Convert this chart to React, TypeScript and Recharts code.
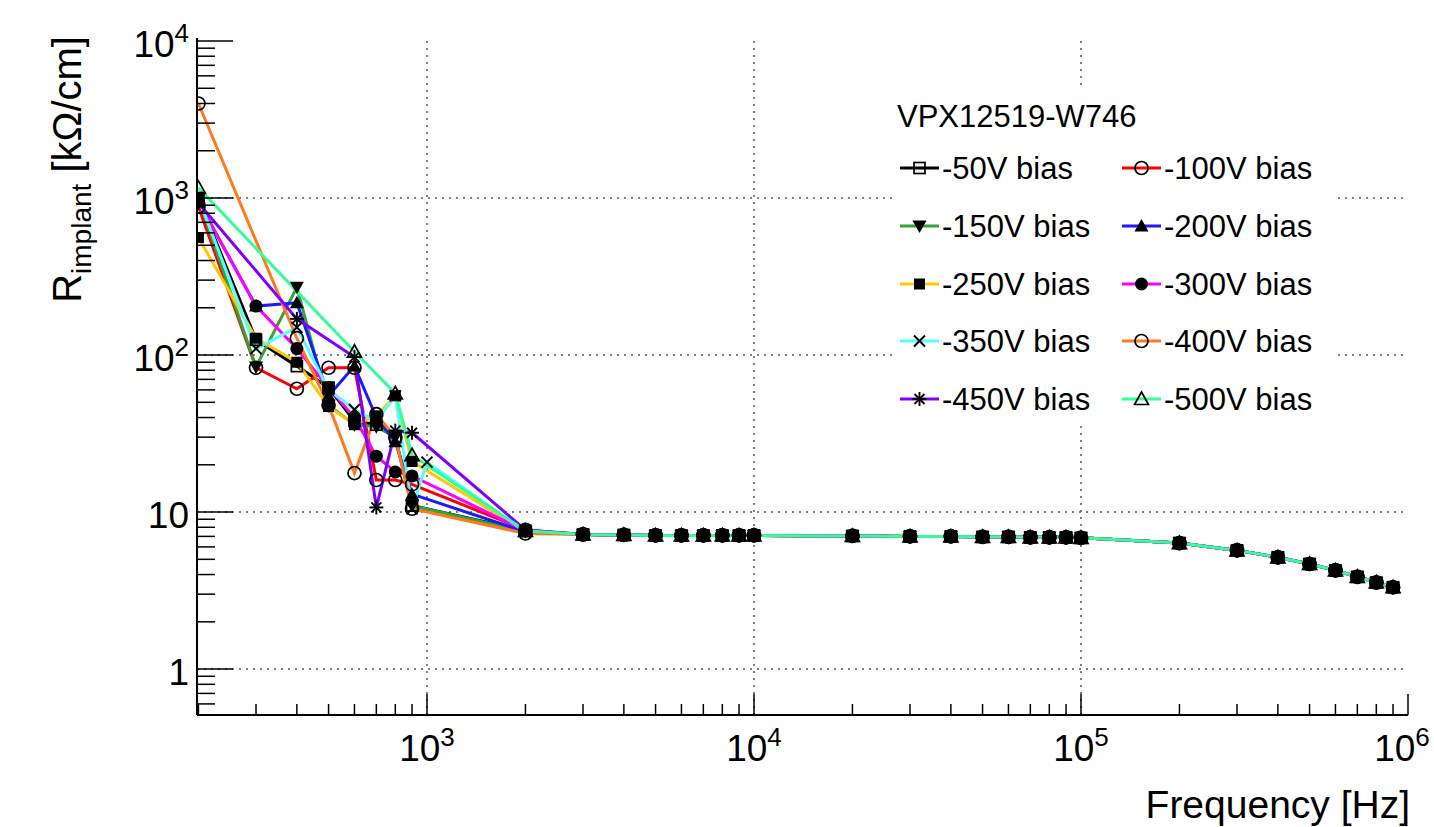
import React from 'react';
import { LineChart, Line, XAxis, YAxis, ReferenceLine, Legend, Label } from 'recharts';

// frequencies (Hz) of the sweep
const LOW_FREQ = [200, 300, 400, 500, 600, 700, 800, 900, 2000];
const LOW_FREQ_350V = [200, 300, 400, 500, 600, 700, 800, 900, 1000, 2000];
const LOW_FREQ_400V = [200, 400, 500, 600, 700, 800, 900, 2000];
const LOW_FREQ_450V = [200, 400, 600, 700, 800, 900, 2000];
const LOW_FREQ_500V = [200, 600, 800, 900, 2000];
const TAIL_FREQ = [
  3000, 4000, 5000, 6000, 7000, 8000, 9000, 10000, 20000, 30000, 40000, 50000, 60000,
  70000, 80000, 90000, 100000, 200000, 300000, 400000, 500000, 600000, 700000, 800000, 900000,
];

// R_implant (kOhm/cm), low frequency part per bias
const R_50V = [1000, 125, 85, 62, 38, 36, 30, 11, 7.6];
const R_100V = [880, 83, 61, 83, 83, 16, 16, 15, 7.7];
const R_150V = [1000, 84, 270, 48, 36, 35, 30, 11, 7.5];
const R_200V = [950, 205, 215, 55, 85, 40, 28, 13, 7.5];
const R_250V = [560, 128, 90, 47, 36, 41, 55, 21, 7.5];
const R_300V = [950, 205, 110, 62, 40, 22.7, 18, 17, 7.6];
const R_350V = [1000, 110, 150, 60, 45, 38, 55, 10.5, 20.8, 7.5];
const R_400V = [4000, 128, 48, 17.7, 42, 30, 10.5, 7.3];
const R_450V = [930, 170, 97, 10.7, 33, 32, 7.7];
const R_500V = [1160, 105, 57, 23, 7.6];

// above 2 kHz all biases sit on top of each other
const R_TAIL = [
  7.2, 7.15, 7.1, 7.1, 7.1, 7.1, 7.1, 7.1, 7.05, 7.0, 7.0, 6.95, 6.95,
  6.9, 6.9, 6.9, 6.85, 6.35, 5.7, 5.15, 4.67, 4.25, 3.87, 3.56, 3.32,
];

const X_TICKS = [
  200, 300, 400, 500, 600, 700, 800, 900,
  1000, 2000, 3000, 4000, 5000, 6000, 7000, 8000, 9000,
  10000, 20000, 30000, 40000, 50000, 60000, 70000, 80000, 90000,
  100000, 200000, 300000, 400000, 500000, 600000, 700000, 800000, 900000, 1000000,
];
const Y_TICKS = [
  0.6, 0.7, 0.8, 0.9, 1, 2, 3, 4, 5, 6, 7, 8, 9,
  10, 20, 30, 40, 50, 60, 70, 80, 90,
  100, 200, 300, 400, 500, 600, 700, 800, 900,
  1000, 2000, 3000, 4000, 5000, 6000, 7000, 8000, 9000, 10000,
];
const X_GRID = [1000, 10000, 100000];
const Y_GRID = [1, 10, 100, 1000];

const FONT = '"Liberation Sans", Arial, Helvetica, sans-serif';

type Marker =
  | 'openSquare' | 'openCircle' | 'downTri' | 'upTri' | 'square'
  | 'circle' | 'cross' | 'star' | 'openTri';

const series = [
  { name: '-50V bias', freq: LOW_FREQ, r: R_50V, color: '#000000', marker: 'openSquare' as Marker },
  { name: '-100V bias', freq: LOW_FREQ, r: R_100V, color: '#ff0000', marker: 'openCircle' as Marker },
  { name: '-150V bias', freq: LOW_FREQ, r: R_150V, color: '#36a336', marker: 'downTri' as Marker },
  { name: '-200V bias', freq: LOW_FREQ, r: R_200V, color: '#1a1aff', marker: 'upTri' as Marker },
  { name: '-250V bias', freq: LOW_FREQ, r: R_250V, color: '#ffc800', marker: 'square' as Marker },
  { name: '-300V bias', freq: LOW_FREQ, r: R_300V, color: '#ff00ff', marker: 'circle' as Marker },
  { name: '-350V bias', freq: LOW_FREQ_350V, r: R_350V, color: '#55ffff', marker: 'cross' as Marker },
  { name: '-400V bias', freq: LOW_FREQ_400V, r: R_400V, color: '#ff7a1f', marker: 'openCircle' as Marker },
  { name: '-450V bias', freq: LOW_FREQ_450V, r: R_450V, color: '#8000ff', marker: 'star' as Marker },
  { name: '-500V bias', freq: LOW_FREQ_500V, r: R_500V, color: '#33ff99', marker: 'openTri' as Marker },
];

const toPoints = (freq: number[], r: number[]) =>
  freq.map((f, i) => ({ f, r: r[i] })).concat(TAIL_FREQ.map((f, i) => ({ f, r: R_TAIL[i] })));

function drawMarker(shape: Marker, cx: number, cy: number, key?: string) {
  const k = '#000';
  switch (shape) {
    case 'openSquare':
      return <rect key={key} x={cx - 5.5} y={cy - 5.5} width={11} height={11} fill="none" stroke={k} strokeWidth={1.7} />;
    case 'square':
      return <rect key={key} x={cx - 5.5} y={cy - 5.5} width={11} height={11} fill={k} />;
    case 'openCircle':
      return <circle key={key} cx={cx} cy={cy} r={6.5} fill="none" stroke={k} strokeWidth={1.7} />;
    case 'circle':
      return <circle key={key} cx={cx} cy={cy} r={6.5} fill={k} />;
    case 'upTri':
      return <polygon key={key} points={`${cx},${cy - 7} ${cx + 7},${cy + 5.5} ${cx - 7},${cy + 5.5}`} fill={k} />;
    case 'openTri':
      return <polygon key={key} points={`${cx},${cy - 7} ${cx + 7},${cy + 5.5} ${cx - 7},${cy + 5.5}`} fill="none" stroke={k} strokeWidth={1.7} />;
    case 'downTri':
      return <polygon key={key} points={`${cx},${cy + 7} ${cx + 7},${cy - 5.5} ${cx - 7},${cy - 5.5}`} fill={k} />;
    case 'cross':
      return (
        <g key={key} stroke={k} strokeWidth={1.9}>
          <line x1={cx - 5.5} y1={cy - 5.5} x2={cx + 5.5} y2={cy + 5.5} />
          <line x1={cx - 5.5} y1={cy + 5.5} x2={cx + 5.5} y2={cy - 5.5} />
        </g>
      );
    case 'star':
      return (
        <g key={key} stroke={k} strokeWidth={1.9}>
          <line x1={cx - 7} y1={cy} x2={cx + 7} y2={cy} />
          <line x1={cx} y1={cy - 7} x2={cx} y2={cy + 7} />
          <line x1={cx - 5} y1={cy - 5} x2={cx + 5} y2={cy + 5} />
          <line x1={cx - 5} y1={cy + 5} x2={cx + 5} y2={cy - 5} />
        </g>
      );
  }
  return null;
}

const isDecade = (v: number) => Math.abs(Math.log10(v) - Math.round(Math.log10(v))) < 1e-6;

const PowLabel = ({ v, x, y, anchor }: { v: number; x: number; y: number; anchor: 'middle' | 'end' }) => {
  const e = Math.round(Math.log10(v));
  return (
    <text x={x} y={y} textAnchor={anchor} fontFamily={FONT} fontSize={37} fill="#000">
      {e === 0 ? '1' : '10'}
      {e > 1 && (
        <tspan dy={-15} fontSize={26}>
          {e}
        </tspan>
      )}
    </text>
  );
};

const BottomTick = (props: any) => {
  const { x, y, payload } = props;
  const major = isDecade(payload.value);
  // last label would run past the right edge of the page
  const lx = payload.value >= 1000000 ? x - 6 : x;
  return (
    <g>
      <line x1={x} y1={y} x2={x} y2={y - (major ? 21 : 11)} stroke="#000" strokeWidth={1.5} />
      {major && <PowLabel v={payload.value} x={lx} y={y + 46} anchor="middle" />}
    </g>
  );
};

const TopTick = (props: any) => {
  const { x, y, payload } = props;
  const major = isDecade(payload.value);
  return <line x1={x} y1={y} x2={x} y2={y + (major ? 21 : 11)} stroke="#000" strokeWidth={1.5} />;
};

const LeftTick = (props: any) => {
  const { x, y, payload } = props;
  const major = isDecade(payload.value);
  return (
    <g>
      <line x1={x} y1={y} x2={x + (major ? 36 : 18)} y2={y} stroke="#000" strokeWidth={1.5} />
      {major && <PowLabel v={payload.value} x={x - 8} y={y + 16} anchor="end" />}
    </g>
  );
};

const RightTick = (props: any) => {
  const { x, y, payload } = props;
  const major = isDecade(payload.value);
  return <line x1={x} y1={y} x2={x - (major ? 36 : 18)} y2={y} stroke="#000" strokeWidth={1.5} />;
};

const LegendBox = () => {
  const rows = [83, 141, 199, 256, 314];
  return (
    <div style={{ width: 442, height: 340, background: '#fff' }}>
      <svg width={442} height={340}>
        <text x={4} y={42} fontFamily={FONT} fontSize={31} fill="#000">
          VPX12519-W746
        </text>
        {series.map((s, i) => {
          const col = i % 2;
          const cy = rows[Math.floor(i / 2)];
          const x0 = col === 0 ? 7 : 229;
          return (
            <g key={s.name}>
              <line x1={x0} y1={cy} x2={x0 + 39} y2={cy} stroke={s.color} strokeWidth={3} />
              {drawMarker(s.marker, x0 + 19.5, cy)}
              <text x={x0 + 42} y={cy + 11} fontFamily={FONT} fontSize={31} fill="#000">
                {s.name}
              </text>
            </g>
          );
        })}
      </svg>
    </div>
  );
};

export default function App() {
  return (
    <div style={{ position: 'absolute', left: 0, top: 0, background: '#fff' }}>
      <LineChart width={1434} height={827} margin={{ top: 38, right: 26, bottom: 0, left: 0 }}>
        <XAxis
          xAxisId="b"
          type="number"
          dataKey="f"
          scale="log"
          domain={[198, 1000000]}
          allowDataOverflow
          ticks={X_TICKS}
          interval={0}
          tickSize={0}
          tickMargin={0}
          tick={<BottomTick />}
          height={112}
          axisLine={{ stroke: '#000', strokeWidth: 2 }}
        >
          <Label
            content={(p: any) => {
              const vb = p.viewBox;
              return (
                <text x={vb.x + vb.width + 2} y={vb.y + 103} textAnchor="end" fontFamily={FONT} fontSize={39} fill="#000">
                  Frequency [Hz]
                </text>
              );
            }}
          />
        </XAxis>
        <XAxis
          xAxisId="t"
          orientation="top"
          type="number"
          dataKey="f"
          scale="log"
          domain={[198, 1000000]}
          allowDataOverflow
          ticks={X_TICKS}
          interval={0}
          tickSize={0}
          tickMargin={0}
          tick={<TopTick />}
          height={0}
          axisLine={{ stroke: '#000', strokeWidth: 2 }}
        />
        <YAxis
          yAxisId="l"
          type="number"
          dataKey="r"
          scale="log"
          domain={[0.51, 10450]}
          allowDataOverflow
          ticks={Y_TICKS}
          interval={0}
          tickSize={0}
          tickMargin={0}
          tick={<LeftTick />}
          width={197}
          axisLine={{ stroke: '#000', strokeWidth: 2 }}
        >
          <Label
            content={(p: any) => {
              const vb = p.viewBox;
              return (
                <text
                  transform={`translate(81, ${vb.y - 2}) rotate(-90)`}
                  x={0}
                  y={0}
                  textAnchor="end"
                  fontFamily={FONT}
                  fontSize={40}
                  fill="#000"
                >
                  R
                  <tspan dy={10} fontSize={28}>
                    implant
                  </tspan>
                  <tspan dy={-10}> [kΩ/cm]</tspan>
                </text>
              );
            }}
          />
        </YAxis>
        <YAxis
          yAxisId="r"
          orientation="right"
          type="number"
          dataKey="r"
          scale="log"
          domain={[0.51, 10450]}
          allowDataOverflow
          ticks={Y_TICKS}
          interval={0}
          tickSize={0}
          tickMargin={0}
          tick={<RightTick />}
          width={0}
          axisLine={{ stroke: '#000', strokeWidth: 2 }}
        />
        {X_GRID.map((v) => (
          <ReferenceLine key={`gx${v}`} x={v} xAxisId="b" yAxisId="l" stroke="#555" strokeWidth={1.5} strokeDasharray="2 5" />
        ))}
        {Y_GRID.map((v) => (
          <ReferenceLine key={`gy${v}`} y={v} xAxisId="b" yAxisId="l" stroke="#555" strokeWidth={1.5} strokeDasharray="2 5" />
        ))}
        {series.map((s) => (
          <Line
            key={s.name}
            xAxisId="b"
            yAxisId="l"
            data={toPoints(s.freq, s.r)}
            dataKey="r"
            type="linear"
            stroke={s.color}
            strokeWidth={3}
            isAnimationActive={false}
            activeDot={false}
            dot={(p: any) => drawMarker(s.marker, p.cx, p.cy, `${s.name}-${p.index}`)}
          />
        ))}
        <Legend
          layout="horizontal"
          verticalAlign="middle"
          content={() => <LegendBox />}
          wrapperStyle={{ position: 'absolute', left: 893, top: 85, width: 442, height: 340 }}
        />
      </LineChart>
    </div>
  );
}
